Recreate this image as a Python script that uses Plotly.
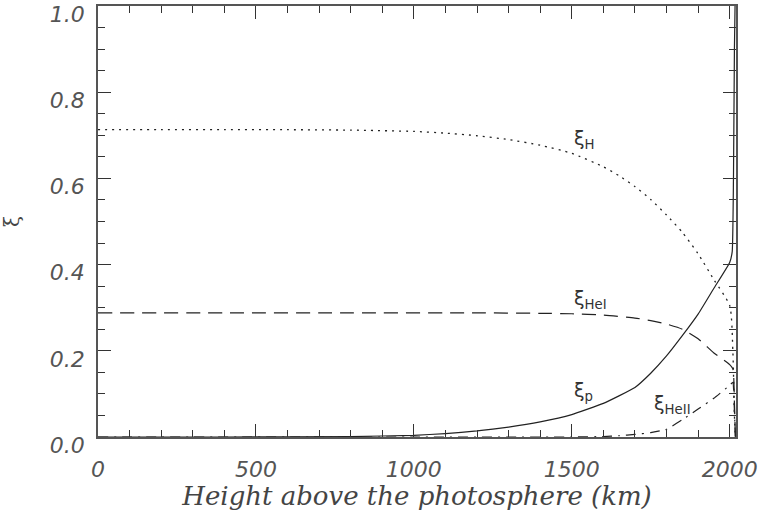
import plotly.graph_objects as go

# ---- data ----
h_p = [0, 400, 800, 1000, 1100, 1200, 1300, 1400, 1500, 1600, 1700, 1750, 1800, 1850, 1900, 1950, 2000, 2008, 2012, 2015, 2017]
xi_p = [0.0, 0.0, 0.001, 0.004, 0.008, 0.014, 0.023, 0.035, 0.052, 0.078, 0.115, 0.148, 0.188, 0.235, 0.285, 0.345, 0.405, 0.43, 0.6, 0.9, 1.0]

h_H = [0, 200, 400, 600, 800, 1000, 1100, 1200, 1300, 1400, 1500, 1600, 1650, 1700, 1750, 1800, 1850, 1900, 1950, 2000, 2010, 2015, 2018]
xi_H = [0.713, 0.713, 0.713, 0.713, 0.712, 0.709, 0.705, 0.699, 0.690, 0.677, 0.658, 0.627, 0.606, 0.581, 0.551, 0.515, 0.475, 0.425, 0.365, 0.305, 0.2, 0.05, 0.0]

h_HeI = [0, 400, 800, 1200, 1400, 1500, 1600, 1700, 1750, 1800, 1850, 1900, 1950, 2000, 2010, 2015, 2018]
xi_HeI = [0.288, 0.288, 0.288, 0.288, 0.287, 0.286, 0.283, 0.276, 0.27, 0.262, 0.25, 0.228, 0.195, 0.168, 0.158, 0.08, 0.0]

h_HeII = [0, 1000, 1500, 1600, 1650, 1700, 1750, 1800, 1850, 1900, 1950, 2000, 2010, 2015, 2018]
xi_HeII = [0.0, 0.0, 0.0, 0.001, 0.003, 0.006, 0.01, 0.018, 0.04, 0.065, 0.09, 0.12, 0.127, 0.06, 0.0]

x_ticks = [0, 500, 1000, 1500, 2000]
y_ticks = [0.0, 0.2, 0.4, 0.6, 0.8, 1.0]
y_tick_labels = ["0.0", "0.2", "0.4", "0.6", "0.8", "1.0"]

labels = [
    ("ξ<sub>H</sub>", 1500, 0.69),
    ("ξ<sub>HeI</sub>", 1500, 0.32),
    ("ξ<sub>p</sub>", 1500, 0.105),
    ("ξ<sub>HeII</sub>", 1753, 0.075),
]

LC = "#222222"
fig = go.Figure()
fig.add_trace(go.Scatter(x=h_H, y=xi_H, mode="lines", line=dict(color=LC, width=1.3, dash="2px,5px", shape="spline", smoothing=0.6)))
fig.add_trace(go.Scatter(x=h_HeI, y=xi_HeI, mode="lines", line=dict(color=LC, width=1.2, dash="14px,8px", shape="spline", smoothing=0.6)))
fig.add_trace(go.Scatter(x=h_p, y=xi_p, mode="lines", line=dict(color=LC, width=1.2, shape="spline", smoothing=0.4)))
fig.add_trace(go.Scatter(x=h_HeII, y=xi_HeII, mode="lines", line=dict(color=LC, width=1.2, dash="10px,6px,2px,6px", shape="spline", smoothing=0.4)))

for txt, x, y in labels:
    fig.add_annotation(x=x, y=y, text=txt, showarrow=False, xanchor="left", yanchor="middle",
                       font=dict(family="DejaVu Sans", size=19, color="#333333"))

tickfont = dict(family="DejaVu Sans", size=22, color="#555555", style="italic")
axis_common = dict(showgrid=False, zeroline=False, showline=True, linecolor="#555555", linewidth=1.5,
                   ticks="inside", mirror="allticks", tickcolor="#333333", tickwidth=1.2, ticklen=13,
                   tickfont=tickfont, ticklabeloverflow="allow", automargin=False)

fig.update_xaxes(range=[0, 2020], tickvals=x_ticks, ticktext=[str(v) for v in x_ticks],
                 ticklabelstandoff=12,
                 minor=dict(dtick=100, ticks="inside", ticklen=7, tickcolor="#333333", tickwidth=1.2),
                 title=dict(text="Height above the photosphere (km)", standoff=2,
                            font=dict(family="DejaVu Serif", size=26, color="#444444", style="italic")),
                 **axis_common)
fig.update_yaxes(range=[0, 1.0], tickvals=y_ticks, ticktext=y_tick_labels,
                 ticklabelstandoff=7, ticklabelshift=8,
                 minor=dict(dtick=0.05, ticks="inside", ticklen=7, tickcolor="#333333", tickwidth=1.2),
                 title=dict(text="ξ", standoff=30, font=dict(family="DejaVu Serif", size=20, color="#444444")),
                 **axis_common)

fig.update_layout(width=764, height=511, margin=dict(l=98, r=28, t=6, b=74),
                  plot_bgcolor="white", paper_bgcolor="white", showlegend=False)

fig.write_html("out.html")
